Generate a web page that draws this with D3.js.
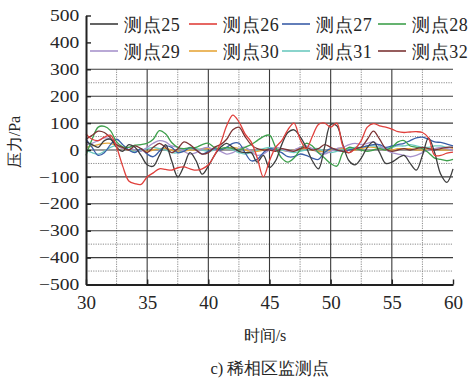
<!DOCTYPE html>
<html>
<head>
<meta charset="utf-8">
<script src="https://cdn.jsdelivr.net/npm/d3@7"></script>
<style>
  html, body { margin: 0; padding: 0; background: #ffffff; }
  svg { display: block; }
</style>
</head>
<body>
<svg id="chart" width="473" height="383"></svg>
<script>
// Sampling instants (s), one every 0.5 s from 30 s to 60 s
const times = d3.range(30, 60.001, 0.5);

// Pressure (Pa) at monitoring points 25–32
const p25 = [30,20,10,35,40, 10,-5,20,10,-20, -55,-60,-20,20,-40, -100,-60,-10,-40,-90, -60,-20,10,25,10, -5,-10,-10,-45,-20, -65,-40,20,65,75, 50,10,-40,-70,10, 95,90,20,-40,-55, -30,10,30,-10,-50, -45,-30,-20,-50,-75, -20,45,-10,-90,-120, -70];
const p26 = [60,40,35,48,55, 10,-60,-115,-125,-128, -100,-85,-70,-72,-75, -66,-63,-70,-75,-70, -55,-20,25,90,130, 105,60,30,-30,-100, -40,10,35,75,100, 40,5,50,95,100, 85,100,15,-10,5, 35,85,98,90,85, 78,68,65,67,68, 65,45,-20,-20,-12, -8];
const p27 = [40,10,-20,-10,20, 40,20,0,-10,5, -15,-25,-5,15,10, -10,-5,10,0,-15, -5,5,0,10,25, 25,-10,-40,-35,-10, 5,0,-10,-25,-25, -15,-20,-30,-35,-10, 5,0,-5,0,5, 10,15,20,20,10, 15,20,25,35,45, 48,40,30,28,22, 15];
const p28 = [-20,40,85,88,72, 30,12,10,18,20, 25,40,72,60,28, 10,5,8,10,20, 25,10,5,10,5, 0,10,20,35,50, 55,10,-30,-45,-30, 0,25,15,-10,-30, -50,-60,-10,10,5, 0,-5,0,5,0, 10,30,35,15,10, 5,-10,-30,-35,-40, -35];
const p29 = [20,25,35,45,40, 20,5,10,0,-5, 10,25,35,30,15, 10,-5,-15,-10,5, 10,0,-5,-15,-10, 5,10,-5,-20,-15, 0,10,5,-5,0, 10,15,5,-10,-15, -5,5,10,20,25, 20,25,30,15,0, -10,-15,-20,-25,-20, -10,0,5,10,5, 0];
const p30 = [10,15,20,25,25, 15,5,0,-5,0, -5,0,5,5,0, -5,-5,0,0,5, 5,0,0,5,10, 5,0,-5,-5,0, 5,5,0,-5,0, 5,5,0,-5,-5, 0,5,5,0,0, 5,10,10,5,0, 0,5,5,5,0, 0,5,5,0,0, 5];
const p31 = [0,-10,-15,-5,10, 15,10,0,-5,0, 5,10,5,0,-10, -10,0,5,5,0, -5,0,5,5,0, -10,-15,-10,0,5, 10,5,0,-5,-10, -5,0,5,5,-5, -10,-5,0,5,10, 10,15,15,10,5, 10,15,15,20,15, 10,10,15,15,10, 10];
const p32 = [40,55,70,65,45, 20,10,0,15,5, -10,10,25,10,-10, 5,30,20,0,-15, -10,10,20,40,75, 85,50,20,5,0, 0,-5,5,0,-5, 5,10,0,5,20, 10,0,-5,-10,5, 10,40,70,40,5, -5,0,5,0,5, 10,5,0,5,10, 10];

const seriesNames = ["测点25","测点26","测点27","测点28","测点29","测点30","测点31","测点32"];
const seriesValues = [p25, p26, p27, p28, p29, p30, p31, p32];
const seriesColors = ["#3d3d3d","#e0403c","#3a5ea8","#3ea04c","#a893cc","#e6a63a","#6ccabf","#7c3434"];

const xTicks = [30, 35, 40, 45, 50, 55, 60];
const yTicks = [-500,-400,-300,-200,-100,0,100,200,300,400,500];
const xLabel = "时间/s";
const yLabel = "压力/Pa";
const caption = "c) 稀相区监测点";

const serifFont = "Liberation Serif";
const inkColor = "#262626";

const svg = d3.select("#chart");
const plotLeft = 86, plotRight = 453, plotTop = 15.5, plotBottom = 284.5;

const x = d3.scaleLinear().domain([30, 60]).range([plotLeft, plotRight]);
const y = d3.scaleLinear().domain([-500, 500]).range([plotBottom, plotTop]);

// grid: solid at major steps, dotted at half steps, below the legend band
const grid = svg.append("g");
const majorY = d3.range(-400, 301, 100);
const minorY = d3.range(-450, 251, 100);
const majorX = [35, 40, 45, 50, 55];
const minorX = [32.5, 37.5, 42.5, 47.5, 52.5, 57.5];

grid.selectAll(".my").data(minorY).join("line")
  .attr("x1", plotLeft).attr("x2", plotRight)
  .attr("y1", d => y(d)).attr("y2", d => y(d))
  .attr("stroke", "#8a8a8a").attr("stroke-width", 1)
  .attr("stroke-dasharray", "1.2,1.2");
grid.selectAll(".mx").data(minorX).join("line")
  .attr("x1", d => x(d)).attr("x2", d => x(d))
  .attr("y1", y(300)).attr("y2", plotBottom)
  .attr("stroke", "#8a8a8a").attr("stroke-width", 1)
  .attr("stroke-dasharray", "1.2,1.2");
grid.selectAll(".Y").data(majorY).join("line")
  .attr("x1", plotLeft).attr("x2", plotRight)
  .attr("y1", d => y(d)).attr("y2", d => y(d))
  .attr("stroke", "#3a3a3a").attr("stroke-width", 1.1);
grid.selectAll(".X").data(majorX).join("line")
  .attr("x1", d => x(d)).attr("x2", d => x(d))
  .attr("y1", y(300)).attr("y2", plotBottom)
  .attr("stroke", "#3a3a3a").attr("stroke-width", 1.1);

// data lines
const line = d3.line()
  .x((d, i) => x(times[i]))
  .y(d => y(d))
  .curve(d3.curveCatmullRom.alpha(0.5));

const drawOrder = [5, 6, 4, 2, 3, 7, 0, 1];
svg.append("g").selectAll("path").data(drawOrder).join("path")
  .attr("d", k => line(seriesValues[k]))
  .attr("fill", "none")
  .attr("stroke", k => seriesColors[k])
  .attr("stroke-width", 1.3)
  .attr("stroke-linejoin", "round");

// axes
const yAxis = svg.append("g").attr("transform", `translate(${plotLeft},0)`)
  .call(d3.axisLeft(y).tickValues(yTicks).tickSizeInner(-5).tickSizeOuter(0).tickPadding(7))
  .attr("font-family", serifFont).attr("font-size", 16);
yAxis.select(".domain").attr("stroke", "#222").attr("stroke-width", 2);
yAxis.selectAll(".tick line").attr("stroke", "#222").attr("stroke-width", 1.4);
yAxis.selectAll(".tick text")
  .attr("font-family", serifFont)
  .attr("fill", inkColor)
  .attr("x", -5.5)
  .attr("transform", "scale(1.22,1)");

const xAxis = svg.append("g").attr("transform", `translate(0,${plotBottom})`)
  .call(d3.axisBottom(x).tickValues(xTicks).tickSizeInner(-5).tickSizeOuter(0).tickPadding(11))
  .attr("font-family", serifFont).attr("font-size", 19);
xAxis.select(".domain").attr("stroke", "#222").attr("stroke-width", 2);
xAxis.selectAll(".tick line").attr("stroke", "#222").attr("stroke-width", 1.4);
xAxis.selectAll(".tick text")
  .attr("font-family", serifFont)
  .attr("fill", inkColor);

// axis titles and caption
const labels = svg.append("g").attr("font-family", serifFont).attr("fill", inkColor);
labels.append("text")
  .attr("transform", `translate(20,142) rotate(-90)`)
  .attr("text-anchor", "middle")
  .attr("font-size", 16)
  .text(yLabel);
labels.append("text")
  .attr("x", 265).attr("y", 341)
  .attr("text-anchor", "middle")
  .attr("font-size", 16)
  .text(xLabel);
labels.append("text")
  .attr("x", 270).attr("y", 374)
  .attr("text-anchor", "middle")
  .attr("font-size", 16.5)
  .text(caption);

// legend: two rows of four
const legendX = [90, 189, 282, 378];
const legendY = [24, 51];
const legend = svg.append("g").attr("font-family", serifFont).attr("fill", inkColor);
seriesNames.forEach((name, i) => {
  const lx = legendX[i % 4], ly = legendY[Math.floor(i / 4)];
  legend.append("line")
    .attr("x1", lx).attr("x2", lx + 28)
    .attr("y1", ly).attr("y2", ly)
    .attr("stroke", seriesColors[i]).attr("stroke-width", 1.6);
  legend.append("text")
    .attr("x", lx + 34).attr("y", ly + 6.5)
    .attr("font-size", 18)
    .attr("letter-spacing", 0.6)
    .text(name);
});
</script>
</body>
</html>
